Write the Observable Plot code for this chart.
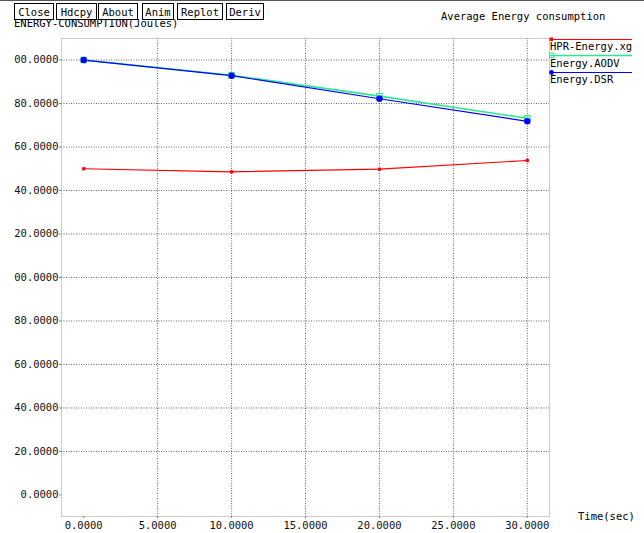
<!DOCTYPE html>
<html><head><meta charset="utf-8">
<script src="https://cdn.jsdelivr.net/npm/d3@7"></script>
<script src="https://cdn.jsdelivr.net/npm/@observablehq/plot@0.6"></script>
<style>
body{margin:0;background:#fff;}
#wrap{position:relative;width:644px;height:533px;overflow:hidden;background:#fff;border-top:1px solid #555;box-sizing:border-box;}
#wrap > svg{position:absolute;left:0;top:0;}
#over{position:absolute;left:0;top:0;pointer-events:none;}
</style></head>
<body>
<div id="wrap"></div>
<script>
// ---- data ----
const times = [0, 10, 20, 30];
const hprEnergy  = [150.0, 148.6, 149.8, 153.8];
const aodvEnergy = [200.0, 193.0, 183.4, 173.2];
const dsrEnergy  = [200.0, 192.8, 182.2, 171.8];
const seriesNames  = ["HPR-Energy.xg", "Energy.AODV", "Energy.DSR"];
const seriesColors = ["#ff0000", "#2ee890", "#0000ff"];
const xTicks = [0, 5, 10, 15, 20, 25, 30];
const xTickLabels = ["0.0000", "5.0000", "10.0000", "15.0000", "20.0000", "25.0000", "30.0000"];
const yTicks = [0, 20, 40, 60, 80, 100, 120, 140, 160, 180, 200];
const yTickLabels = ["0.0000", "20.0000", "40.0000", "60.0000", "80.0000", "00.0000", "20.0000", "40.0000", "60.0000", "80.0000", "00.0000"];
const buttonLabels = ["Close", "Hdcpy", "About", "Anim", "Replot", "Deriv"];
const chartTitle = "Average Energy consumption";
const yTitle = "ENERGY-CONSUMPTION(Joules)";
const xTitle = "Time(sec)";

// ---- table ----
const seriesValues = [hprEnergy, aodvEnergy, dsrEnergy];
const rows = [];
seriesValues.forEach((vals, i) => vals.forEach((v, j) => rows.push({series: seriesNames[i], t: times[j], e: v})));
const bySeries = name => rows.filter(d => d.series === name);

const FONT = '"DejaVu Sans Mono", "Liberation Mono", monospace';

const plot = Plot.plot({
  width: 644, height: 533,
  marginLeft: 61, marginRight: 95, marginTop: 37, marginBottom: 18,
  x: {domain: [-1.5, 31.5]},
  y: {domain: [-9.9, 209.9]},
  color: {domain: seriesNames, range: seriesColors},
  style: {fontFamily: FONT, fontSize: "10.5px", background: "transparent", color: "#000"},
  marks: [
    Plot.gridX(xTicks.filter(t => t !== 0), {stroke: "#333", strokeOpacity: 0.75, strokeDasharray: "1,1.5"}),
    Plot.gridY(yTicks.filter(t => t !== 0), {stroke: "#333", strokeOpacity: 0.75, strokeDasharray: "1,1.5"}),
    Plot.frame({stroke: "#999", strokeDasharray: "1,1"}),
    Plot.axisX(xTicks, {tickFormat: d => xTickLabels[xTicks.indexOf(d)], tickSize: 2, tickPadding: 3, label: null, stroke: "#888", fill: "#111"}),
    Plot.axisY(yTicks, {tickFormat: d => yTickLabels[yTicks.indexOf(d)], tickSize: 2, tickPadding: 1, label: null, stroke: "#888", fill: "#111"}),
    Plot.line(bySeries(seriesNames[0]), {x: "t", y: "e", stroke: seriesColors[0], strokeWidth: 1.2}),
    Plot.line(bySeries(seriesNames[1]), {x: "t", y: "e", stroke: seriesColors[1], strokeWidth: 1.6}),
    Plot.line(bySeries(seriesNames[2]), {x: "t", y: "e", stroke: seriesColors[2], strokeWidth: 1.2}),
    Plot.dot(bySeries(seriesNames[0]), {x: "t", y: "e", symbol: "square", r: 1.8, fill: seriesColors[0], stroke: "none"}),
    Plot.dot(bySeries(seriesNames[1]), {x: "t", y: "e", symbol: "square", r: 3, fill: "none", stroke: seriesColors[1], strokeWidth: 1.2}),
    Plot.dot(bySeries(seriesNames[2]), {x: "t", y: "e", r: 2.5, fill: seriesColors[2], stroke: seriesColors[2]})
  ]
});
document.getElementById("wrap").appendChild(plot);

// ---- overlay: title, axis titles, legend, buttons ----
const over = d3.select("#wrap").append("svg").attr("id", "over")
  .attr("width", 644).attr("height", 533)
  .style("font-family", FONT).style("font-size", "10.5px");

over.append("text").attr("x", 441).attr("y", 18.5).text(chartTitle);
over.append("text").attr("x", 14).attr("y", 25.5).text(yTitle);
over.append("text").attr("x", 578).attr("y", 519).text(xTitle);

// legend
const legY = [38, 54, 71];
const legTextY = [48.5, 66, 82];
seriesNames.forEach((name, i) => {
  const g = over.append("g");
  g.append("line").attr("x1", 550).attr("x2", 632).attr("y1", legY[i] + 0.5).attr("y2", legY[i] + 0.5)
    .attr("stroke", seriesColors[i]).attr("stroke-width", i === 1 ? 1.6 : 1.2);
  if (i === 0) g.append("rect").attr("x", 549.5).attr("y", legY[i] - 1.5).attr("width", 3.5).attr("height", 3.5).attr("fill", seriesColors[i]);
  if (i === 1) g.append("rect").attr("x", 549.5).attr("y", legY[i] - 2).attr("width", 4.5).attr("height", 4.5).attr("fill", "none").attr("stroke", seriesColors[i]);
  if (i === 2) g.append("circle").attr("cx", 551.5).attr("cy", legY[i] + 0.5).attr("r", 2.4).attr("fill", seriesColors[i]);
  g.append("text").attr("x", 550).attr("y", legTextY[i]).text(name);
});

// buttons
const btnX = [14, 56, 98, 142, 177, 226];
const btnW = [39, 40, 39, 31, 45, 37];
buttonLabels.forEach((lab, i) => {
  over.append("rect").attr("x", btnX[i] + 0.5).attr("y", 2.5).attr("width", btnW[i]).attr("height", 16)
    .attr("fill", "#fff").attr("stroke", "#000");
  over.append("text").attr("x", btnX[i] + btnW[i] / 2 + 0.5).attr("y", 14.5).attr("text-anchor", "middle").text(lab);
});
</script>
</body></html>
